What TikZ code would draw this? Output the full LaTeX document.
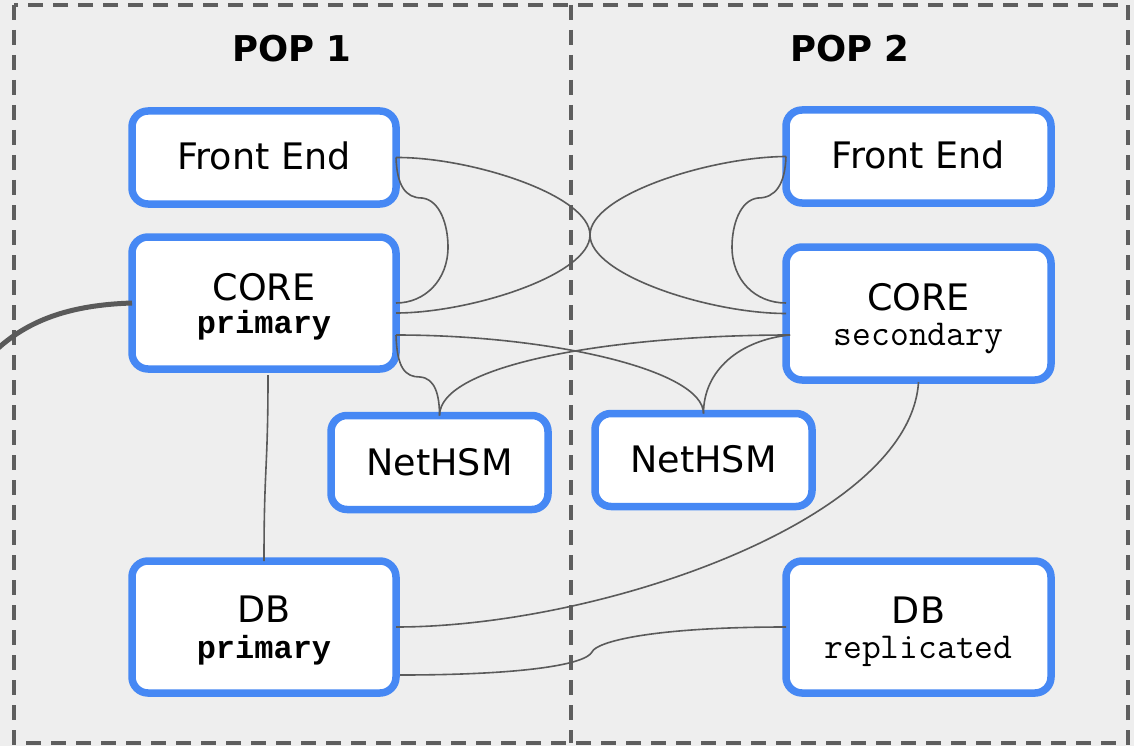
\documentclass[tikz,border=0pt]{standalone}
\usepackage{fontspec}
\setmainfont{DejaVu Sans}
\newfontfamily\monofont{Liberation Mono}
\usetikzlibrary{calc}
\definecolor{bg}{HTML}{EEEEEE}
\definecolor{nodeblue}{HTML}{4688F4}
\definecolor{linegray}{HTML}{5A5A5A}
\definecolor{framegray}{HTML}{5E5E5E}
\tikzset{
  box/.style={draw=nodeblue, line width=7.5pt, fill=white, rounded corners=16pt, inner sep=0pt, outer sep=0pt},
  conn/.style={draw=linegray, line width=1.6pt},
  frame/.style={draw=framegray, line width=3.5pt, dash pattern=on 15pt off 10pt},
  lbl/.style={anchor=base, inner sep=0pt, font=\fontsize{36.5}{40}\selectfont},
  poplbl/.style={anchor=base, inner sep=0pt, font=\bfseries\fontsize{35.5}{40}\selectfont},
  sublbl/.style={anchor=base, inner sep=0pt, font=\ttfamily\fontsize{36.5}{40}\selectfont},
  subbold/.style={anchor=base, inner sep=0pt, font=\monofont\bfseries\fontsize{32}{36}\selectfont},
}
\begin{document}
\begin{tikzpicture}[x=1pt,y=-1pt]
\useasboundingbox (0,0) rectangle (1134,746);
\fill[bg] (0,0) rectangle (1134,746);
\clip (0,0) rectangle (1134,746);
% frame
\draw[frame] (14,5) rectangle (1128,743);
\draw[frame] (571,5) -- (571,743);
% titles
\node[poplbl] (pop1) at (292,62) {POP 1};
\node[poplbl] (pop2) at (850,62) {POP 2};
% boxes
\node[box, minimum width=264pt, minimum height=93pt] (fe1) at (264,157.5) {};
\node[box, minimum width=264pt, minimum height=132pt] (core1) at (264,303) {};
\node[box, minimum width=264pt, minimum height=132pt] (db1) at (264,627) {};
\node[box, minimum width=265pt, minimum height=93pt] (fe2) at (918.5,156.5) {};
\node[box, minimum width=265pt, minimum height=133pt] (core2) at (918.5,313.5) {};
\node[box, minimum width=265pt, minimum height=132pt] (db2) at (918.5,627) {};
\node[box, minimum width=217pt, minimum height=94pt] (hsm1) at (439.5,462.5) {};
\node[box, minimum width=217pt, minimum height=93pt] (hsm2) at (703.5,460) {};
% labels
\node[lbl] (tfe1) at (264,170) {Front End};
\node[lbl] (tfe2) at (918.5,168) {Front End};
\node[lbl] (tcore1) at (264,300) {CORE};
\node[subbold] (score1) at (264,333) {primary};
\node[lbl] (tcore2) at (918.5,310) {CORE};
\node[sublbl] (score2) at (918.5,345) {secondary};
\node[lbl] (thsm1) at (439.5,475) {NetHSM};
\node[lbl] (thsm2) at (703.5,472) {NetHSM};
\node[lbl] (tdb1) at (264,622) {DB};
\node[subbold] (sdb1) at (264,658) {primary};
\node[lbl] (tdb2) at (918.5,623) {DB};
\node[sublbl] (sdb2) at (918.5,658) {replicated};
% connectors
\draw[conn] (fe1.east) .. controls (397,185) and (405,198) .. (422,198)
  .. controls (440,200) and (448,225) .. (448,247)
  .. controls (448,280) and (425,303) .. (core1.east);
\draw[conn] (fe1.east) .. controls (470,157) and (590,195) .. (590,235)
  .. controls (590,275) and (710,313.5) .. (core2.west);
\draw[conn] (fe2.west) .. controls (710,157) and (590,195) .. (590,235)
  .. controls (590,275) and (470,313) .. ($(core1.east)+(0,10)$);
\draw[conn] (fe2.west) .. controls (785,185) and (775,198) .. (758,198)
  .. controls (740,200) and (732,225) .. (732,247)
  .. controls (732,280) and (755,303) .. ($(core2.west)+(0,-10.5)$);
\draw[conn] ($(core1.east)+(0,32)$) .. controls (397,368) and (405,377) .. (420,377)
  .. controls (435,378) and (439.5,395) .. (hsm1.north);
\draw[conn] ($(core1.east)+(0,32)$) .. controls (550,335) and (703.5,370) .. (hsm2.north);
\draw[conn] ($(core2.west)+(4,21.5)$) .. controls (610,335) and (439.5,365) .. (hsm1.north);
\draw[conn] ($(core2.west)+(4,21.5)$) .. controls (740,340) and (703.5,370) .. (hsm2.north);
\draw[conn] ($(core2.south)+(0,2)$) .. controls (910,520) and (600,627) .. (db1.east);
\draw[conn] ($(db1.east)+(4,48)$) .. controls (520,675) and (585,665) .. (592,652)
  .. controls (596,642) and (650,627) .. (db2.west);
\draw[conn] ($(core1.south)+(4,6)$) .. controls (268,470) and (264,465) .. (db1.north);
\coordinate (ext) at (-10,356);
\draw[draw=linegray, line width=5pt] (core1.west) .. controls (70,305) and (25,320) .. (ext);
\end{tikzpicture}
\end{document}
